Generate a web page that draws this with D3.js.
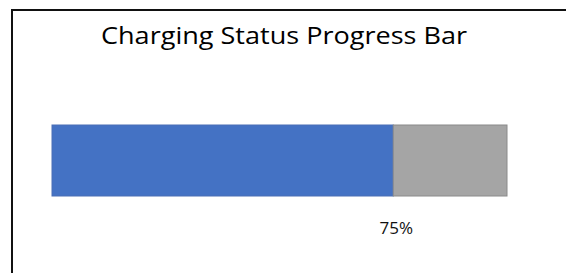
<!DOCTYPE html>
<html>
<head>
<meta charset="utf-8">
<script src="https://cdn.jsdelivr.net/npm/d3@7"></script>
<style>
  body { margin: 0; background: #fff; }
  svg { display: block; }
</style>
</head>
<body>
<script>
// data
const segments = ["Charged", "Remaining"];
const values = [75, 25];
const colors = ["#4472C4", "#A5A5A5"];
const strokes = ["#4a6fb5", "#8a8a8a"];
const labelText = "75%";
const title = "Charging Status Progress Bar";

const width = 566, height = 273;

const svg = d3.select("body").append("svg")
  .attr("width", width)
  .attr("height", height);

// frame (only top + left edges show in the picture)
svg.append("line")
  .attr("x1", 12).attr("y1", 10).attr("x2", width).attr("y2", 10)
  .attr("stroke", "#111").attr("stroke-width", 2);
svg.append("line")
  .attr("x1", 12).attr("y1", 9).attr("x2", 12).attr("y2", height)
  .attr("stroke", "#111").attr("stroke-width", 2);

svg.append("text")
  .attr("x", 284)
  .attr("y", 44)
  .attr("text-anchor", "middle")
  .attr("font-family", "'Open Sans', sans-serif")
  .attr("font-size", 24)
  .attr("fill", "#000")
  .attr("textLength", 366)
  .attr("lengthAdjust", "spacingAndGlyphs")
  .text(title);

// stacked bar
const stacked = [];
let acc = 0;
values.forEach((v, i) => {
  stacked.push({ name: segments[i], x0: acc, x1: acc + v, i });
  acc += v;
});

const x = d3.scaleLinear().domain([0, d3.sum(values)]).range([52, 507]);
const y = d3.scaleBand().domain(["bar"]).range([125, 196]).padding(0);

svg.selectAll("rect.seg")
  .data(stacked)
  .join("rect")
  .attr("class", "seg")
  .attr("x", (d) => x(d.x0))
  .attr("y", y("bar"))
  .attr("width", (d) => x(d.x1) - x(d.x0))
  .attr("height", y.bandwidth())
  .attr("fill", (d) => colors[d.i])
  .attr("stroke", (d) => strokes[d.i])
  .attr("stroke-width", 1);

// value label under the end of the charged part
svg.append("text")
  .attr("x", x(values[0]) + 3)
  .attr("y", 234)
  .attr("text-anchor", "middle")
  .attr("font-family", "'Open Sans', sans-serif")
  .attr("font-size", 17)
  .attr("fill", "#111")
  .text(labelText);
</script>
</body>
</html>
